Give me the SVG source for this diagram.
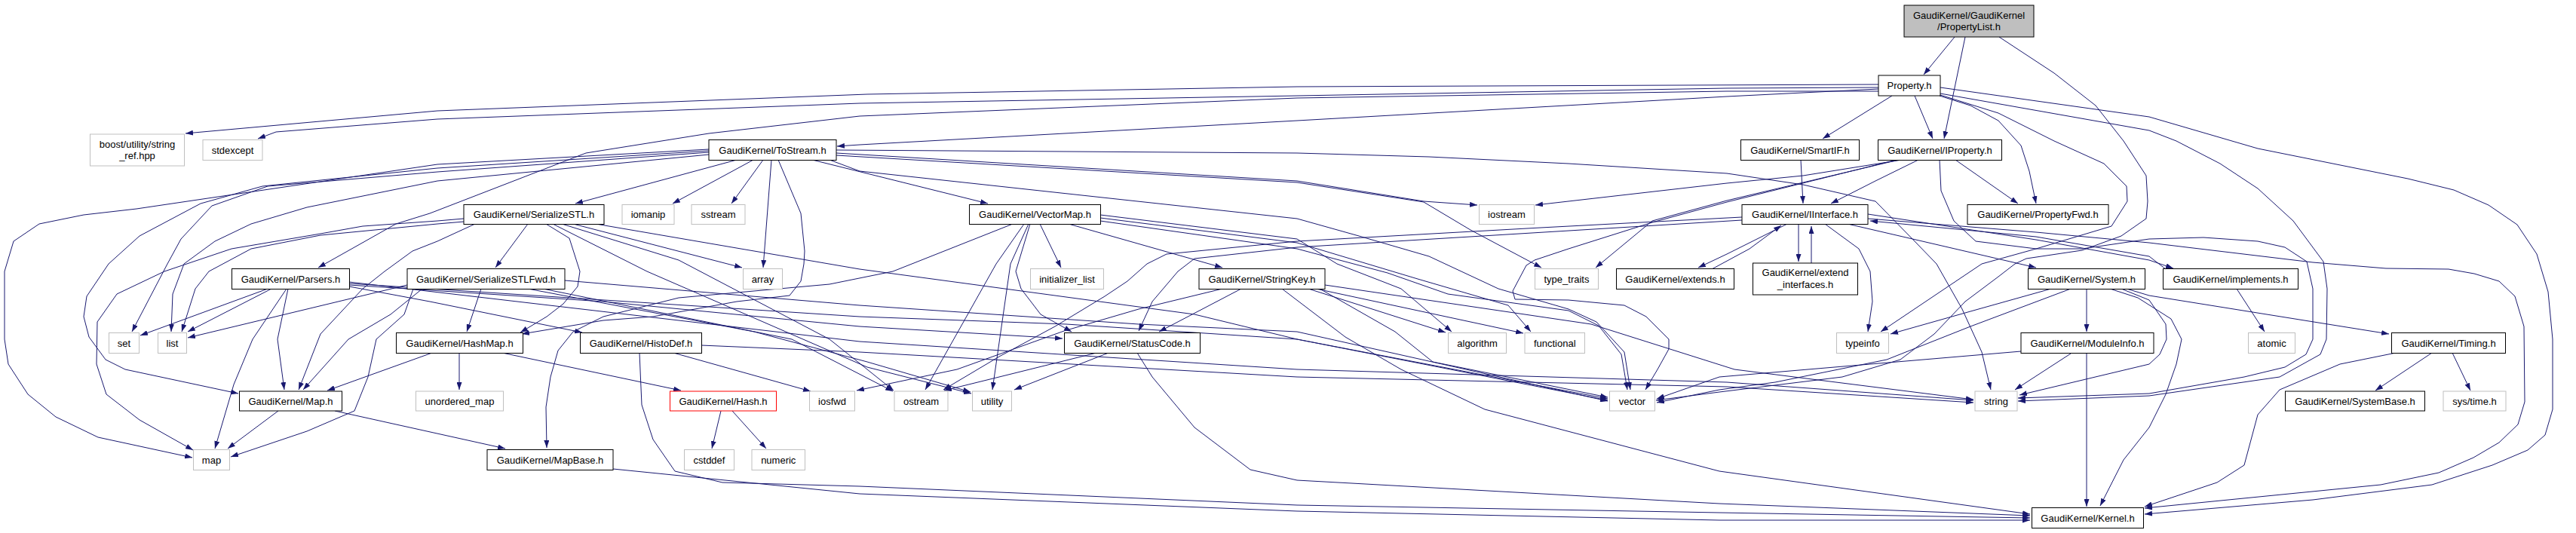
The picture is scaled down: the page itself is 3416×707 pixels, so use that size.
<svg xmlns="http://www.w3.org/2000/svg" width="3416" height="707" viewBox="0 0 3416 707">
<defs>
<marker id="ah" markerWidth="10" markerHeight="7" refX="10" refY="3.5" orient="auto" markerUnits="userSpaceOnUse"><path d="M0,0 L10,3.5 L0,7 z" fill="#191970"/></marker>
<style>
.e path{fill:none;stroke:#191970;stroke-width:1;stroke-linejoin:round;marker-end:url(#ah)}
.n rect{fill:#ffffff;stroke:#000000;stroke-width:1}
.x rect{fill:#ffffff;stroke:#bfbfbf;stroke-width:1}
.r rect{fill:#ffffff;stroke:#ff0000;stroke-width:1}
.root rect{fill:#bfbfbf;stroke:#000000;stroke-width:1}
text{font-family:"Liberation Sans",Arial,Helvetica,sans-serif;font-size:13px;fill:#000000;text-anchor:middle}
</style>
</defs>
<rect width="3416" height="707" fill="#ffffff"/>
<g id="edges" class="e">
<path d="M2592,49 L2551,99"/>
<path d="M2606,49 L2578,184"/>
<path d="M2651,49 L2724,97 L2779,140 L2816,187 L2846,233 L2848,267 L2846,290 L2813,313 L2761,332 L2687,343 L2672,350 L2650,367 L2606,400 L2565,443 L2520,477 L2443,500 L2280,520 L2196,531"/>
<path d="M2491,112 L1720,115 L1150,125 L580,147 L246,177"/>
<path d="M2491,116 L2290,117 L1720,127 L1140,137 L580,158 L366,175 L342,184"/>
<path d="M2491,118 L2290,128 L1720,160 L1140,192 L1110,194"/>
<path d="M2491,121 L2290,121 L1720,130 L1140,154 L940,177 L777,203 L570,283 L525,297 L422,355"/>
<path d="M2509,127 L2417,184"/>
<path d="M2539,127 L2563,184"/>
<path d="M2572,127 L2613,140 L2650,160 L2680,193 L2691,227 L2700,270"/>
<path d="M2573,116 L2850,155 L2994,197 L3193,237 L3254,252 L3300,272 L3338,298 L3364,337 L3379,387 L3385,450 L3385,543 L3375,577 L3352,597 L3305,617 L3225,643 L3067,663 L2844,682"/>
<path d="M2573,124 L2850,173 L2886,187 L2944,217 L2994,250 L3041,293 L3081,347 L3086,383 L3085,450 L3077,470 L3023,500 L2850,525 L2676,532"/>
<path d="M2573,126 L2650,150 L2724,187 L2790,217 L2820,247 L2821,267 L2800,300 L2700,330 L2628,350 L2494,440"/>
<path d="M2544,212 L2487,240 L2428,270"/>
<path d="M2593,212 L2676,270"/>
<path d="M2522,212 L2391,233 L2290,243 L2036,272"/>
<path d="M2518,212 L2290,266 L2191,293 L2116,355"/>
<path d="M2515,212 L2290,268 L2191,295 L2080,330 L2035,345 L2024,352 L2006,386 L2009,397 L2080,398 L2154,405 L2183,420 L2213,450 L2213,463 L2198,490 L2182,517"/>
<path d="M2572,212 L2574,253 L2591,293 L2620,320 L2700,330 L2761,330 L2850,317 L2922,315 L2994,320 L3030,328 L3059,347 L3067,383 L3067,450 L3058,470 L3030,487 L2976,500 L2850,522 L2676,528"/>
<path d="M977,212 L763,270"/>
<path d="M999,212 L892,270"/>
<path d="M1012,212 L970,270"/>
<path d="M1023,212 L1012,355"/>
<path d="M1077,212 L1310,270"/>
<path d="M1032,212 L1062,283 L1067,333 L1066,350 L1062,373 L1047,392 L977,400 L866,420 L800,425 L692,443"/>
<path d="M1109,199 L1720,203 L1895,208 L2080,217 L2290,230 L2391,245 L2487,267 L2539,320 L2568,350 L2602,410 L2628,467 L2640,517"/>
<path d="M1109,203 L1720,240 L1888,267 L1959,272"/>
<path d="M1109,206 L1720,242 L1888,268 L1950,305 L2044,355"/>
<path d="M1100,212 L1140,227 L1720,290 L1802,313 L1895,340 L1987,383 L2080,410 L2117,427 L2154,467 L2162,517"/>
<path d="M940,198 L580,218 L181,277 L111,285 L52,297 L18,320 L6,360 L6,450 L11,483 L37,523 L74,553 L130,580 L255,607"/>
<path d="M940,200 L580,223 L348,247 L266,270 L185,313 L144,350 L115,393 L111,420 L118,447 L140,477 L166,490 L316,522"/>
<path d="M940,202 L580,228 L355,247 L281,273 L240,317 L222,350 L175,440"/>
<path d="M940,205 L580,240 L407,275 L333,297 L285,320 L244,350 L229,390 L227,440"/>
<path d="M700,297 L657,355"/>
<path d="M724,297 L755,316 L769,360 L766,380 L747,403 L725,420 L690,441"/>
<path d="M630,297 L580,320 L547,333 L510,360 L481,383 L425,443 L396,517"/>
<path d="M615,290 L580,293 L481,300 L425,310 L307,330 L218,360 L155,390 L129,427 L128,483 L141,523 L185,557 L256,597"/>
<path d="M615,294 L580,297 L425,312 L333,330 L277,360 L259,383 L241,440"/>
<path d="M760,297 L984,355"/>
<path d="M733,297 L858,360 L1150,487 L1288,522"/>
<path d="M745,297 L900,345 L1100,450 L1185,518"/>
<path d="M790,297 L1140,357 L1362,387 L1584,417 L1720,450 L2132,529"/>
<path d="M638,383 L619,440"/>
<path d="M560,383 L518,417 L462,450 L402,517"/>
<path d="M548,383 L536,417 L499,450 L488,500 L470,545 L407,572 L306,606"/>
<path d="M540,378 L249,448"/>
<path d="M749,372 L1140,405 L1510,430 L1720,440 L2132,532"/>
<path d="M700,383 L1000,440 L1150,480 L1287,520"/>
<path d="M720,383 L1050,450 L1184,519"/>
<path d="M355,383 L186,445"/>
<path d="M360,383 L249,440"/>
<path d="M380,383 L335,450 L310,510 L285,595"/>
<path d="M382,383 L368,450 L377,517"/>
<path d="M463,380 L570,400 L772,441"/>
<path d="M463,378 L800,400 L1140,433 L1409,449"/>
<path d="M463,376 L1140,420 L1414,430 L1720,450 L2132,531"/>
<path d="M463,374 L1140,453 L1720,490 L2290,507 L2617,531"/>
<path d="M893,468 L1075,519"/>
<path d="M848,468 L851,537 L866,583 L895,625 L958,640 L1140,645 L1720,670 L2280,680 L2692,687"/>
<path d="M930,458 L1140,467 L1720,500 L2290,513 L2617,534"/>
<path d="M813,622 L1140,655 L1720,678 L2280,690 L2692,690"/>
<path d="M1379,297 L1407,355"/>
<path d="M1417,297 L1621,355"/>
<path d="M1366,297 L1347,360 L1354,383 L1380,417 L1421,440"/>
<path d="M1364,297 L1340,350 L1316,517"/>
<path d="M1358,297 L1321,350 L1227,517"/>
<path d="M1343,297 L1184,360 L1100,377 L900,395 L800,420 L760,440 L740,465 L730,500 L724,540 L725,594"/>
<path d="M1459,285 L1720,317 L1773,350 L1858,383 L1925,440"/>
<path d="M1459,289 L1720,322 L1880,370 L2000,405 L2030,440"/>
<path d="M1459,293 L1720,330 L1840,362 L1920,390 L2080,412 L2120,432 L2150,470 L2158,517"/>
<path d="M1646,383 L1537,440"/>
<path d="M1621,383 L1510,410 L1411,439 L1269,490 L1136,518"/>
<path d="M1735,383 L1917,441"/>
<path d="M1745,383 L2020,442"/>
<path d="M1750,383 L1850,440 L1900,480 L2132,527"/>
<path d="M1757,378 L2110,430 L2300,490 L2617,530"/>
<path d="M1700,383 L1784,447 L1858,490 L1969,543 L2280,625 L2692,682"/>
<path d="M1454,468 L1325,500 L1252,518"/>
<path d="M1470,468 L1345,517"/>
<path d="M1508,468 L1528,500 L1584,567 L1658,623 L1720,637 L2280,668 L2692,684"/>
<path d="M2388,212 L2391,270"/>
<path d="M2385,297 L2385,347"/>
<path d="M2402,349 L2402,300"/>
<path d="M2370,297 L2290,337 L2252,355"/>
<path d="M2270,357 L2320,330 L2362,299"/>
<path d="M2420,297 L2465,330 L2480,360 L2483,400 L2477,440"/>
<path d="M2450,297 L2700,355"/>
<path d="M2310,288 L2043,302 L1720,320 L1547,337 L1521,350 L1495,373 L1465,393 L1399,433 L1325,473 L1251,517"/>
<path d="M2310,292 L1720,328 L1584,343 L1562,360 L1528,400 L1510,439"/>
<path d="M2477,290 L2700,308 L2850,322 L3067,348 L3164,356 L3247,357 L3281,363 L3314,373 L3335,393 L3347,433 L3348,533 L3339,563 L3314,587 L3280,607 L3234,627 L3157,643 L2844,674"/>
<path d="M2477,284 L2700,318 L2850,345 L2882,356"/>
<path d="M2872,357 L2850,340 L2700,314 L2480,293"/>
<path d="M2720,383 L2613,413 L2507,443"/>
<path d="M2767,383 L2767,440"/>
<path d="M2813,383 L2850,398 L2872,430 L2873,450 L2864,470 L2850,483 L2678,524"/>
<path d="M2798,383 L2835,395 L2879,423 L2893,450 L2886,483 L2872,523 L2850,567 L2816,610 L2785,671"/>
<path d="M2820,383 L2850,392 L3168,443"/>
<path d="M2746,383 L2613,433 L2502,477 L2354,507 L2280,517 L2197,534"/>
<path d="M2746,469 L2672,517"/>
<path d="M2767,469 L2767,672"/>
<path d="M2680,466 L2280,500 L2197,529"/>
<path d="M3225,468 L3150,518"/>
<path d="M3252,468 L3276,518"/>
<path d="M3177,468 L3103,483 L3023,517 L2994,550 L2976,617 L2940,640 L2844,672"/>
<path d="M2966,383 L3003,440"/>
<path d="M609,468 L609,517"/>
<path d="M573,468 L434,518"/>
<path d="M666,468 L903,518"/>
<path d="M369,545 L302,595"/>
<path d="M444,545 L670,595"/>
<path d="M956,545 L944,595"/>
<path d="M971,545 L1016,595"/>
</g>
<g id="n_root" class="root"><rect x="2525" y="7" width="172" height="42"/><text x="2611" y="24.5">GaudiKernel/GaudiKernel</text><text x="2611" y="40">/PropertyList.h</text></g>
<g id="n_property" class="n"><rect x="2491" y="100" width="82" height="27"/><text x="2532" y="118">Property.h</text></g>
<g id="n_boost" class="x"><rect x="119.5" y="178" width="125" height="42"/><text x="182" y="195.5">boost/utility/string</text><text x="182" y="211">_ref.hpp</text></g>
<g id="n_stdexcept" class="x"><rect x="269" y="185.5" width="79" height="27"/><text x="308.5" y="203.5">stdexcept</text></g>
<g id="n_tostream" class="n"><rect x="940" y="185.5" width="169" height="27"/><text x="1024.5" y="203.5">GaudiKernel/ToStream.h</text></g>
<g id="n_smartif" class="n"><rect x="2308.5" y="185.5" width="157" height="27"/><text x="2387" y="203.5">GaudiKernel/SmartIF.h</text></g>
<g id="n_iproperty" class="n"><rect x="2490.5" y="185.5" width="164" height="27"/><text x="2572.5" y="203.5">GaudiKernel/IProperty.h</text></g>
<g id="n_serializestl" class="n"><rect x="615" y="271.5" width="186" height="26"/><text x="708" y="289">GaudiKernel/SerializeSTL.h</text></g>
<g id="n_iomanip" class="x"><rect x="825" y="271.5" width="69" height="26"/><text x="859.5" y="289">iomanip</text></g>
<g id="n_sstream" class="x"><rect x="917" y="271.5" width="71" height="26"/><text x="952.5" y="289">sstream</text></g>
<g id="n_vectormap" class="n"><rect x="1285.5" y="271.5" width="174" height="26"/><text x="1372.5" y="289">GaudiKernel/VectorMap.h</text></g>
<g id="n_iostream" class="x"><rect x="1961.5" y="271.5" width="73" height="26"/><text x="1998" y="289">iostream</text></g>
<g id="n_iinterface" class="n"><rect x="2310" y="271.5" width="167" height="26"/><text x="2393.5" y="289">GaudiKernel/IInterface.h</text></g>
<g id="n_propertyfwd" class="n"><rect x="2609" y="271.5" width="187" height="26"/><text x="2702.5" y="289">GaudiKernel/PropertyFwd.h</text></g>
<g id="n_parsers" class="n"><rect x="307.5" y="356.5" width="156" height="27"/><text x="385.5" y="374.5">GaudiKernel/Parsers.h</text></g>
<g id="n_serializestlfwd" class="n"><rect x="540" y="356.5" width="209" height="27"/><text x="644.5" y="374.5">GaudiKernel/SerializeSTLFwd.h</text></g>
<g id="n_array" class="x"><rect x="985.5" y="356.5" width="52" height="27"/><text x="1011.5" y="374.5">array</text></g>
<g id="n_initializer_list" class="x"><rect x="1366.5" y="356.5" width="97" height="27"/><text x="1415" y="374.5">initializer_list</text></g>
<g id="n_stringkey" class="n"><rect x="1590" y="356.5" width="167" height="27"/><text x="1673.5" y="374.5">GaudiKernel/StringKey.h</text></g>
<g id="n_type_traits" class="x"><rect x="2035.5" y="356.5" width="84" height="27"/><text x="2077.5" y="374.5">type_traits</text></g>
<g id="n_extends" class="n"><rect x="2143.5" y="356.5" width="156" height="27"/><text x="2221.5" y="374.5">GaudiKernel/extends.h</text></g>
<g id="n_extend_interfaces" class="n"><rect x="2324.5" y="349" width="139" height="42"/><text x="2394" y="366">GaudiKernel/extend</text><text x="2394" y="381.5">_interfaces.h</text></g>
<g id="n_system" class="n"><rect x="2689.5" y="356.5" width="155" height="27"/><text x="2767" y="374.5">GaudiKernel/System.h</text></g>
<g id="n_implements" class="n"><rect x="2868.5" y="356.5" width="179" height="27"/><text x="2958" y="374.5">GaudiKernel/implements.h</text></g>
<g id="n_set" class="x"><rect x="144.5" y="441.5" width="40" height="27"/><text x="164.5" y="459.5">set</text></g>
<g id="n_list" class="x"><rect x="209.5" y="441.5" width="38" height="27"/><text x="228.5" y="459.5">list</text></g>
<g id="n_hashmap" class="n"><rect x="525.5" y="441.5" width="168" height="27"/><text x="609.5" y="459.5">GaudiKernel/HashMap.h</text></g>
<g id="n_histodef" class="n"><rect x="769.5" y="441.5" width="161" height="27"/><text x="850" y="459.5">GaudiKernel/HistoDef.h</text></g>
<g id="n_statuscode" class="n"><rect x="1411.5" y="441.5" width="180" height="27"/><text x="1501.5" y="459.5">GaudiKernel/StatusCode.h</text></g>
<g id="n_algorithm" class="x"><rect x="1920.5" y="441.5" width="77" height="27"/><text x="1959" y="459.5">algorithm</text></g>
<g id="n_functional" class="x"><rect x="2022" y="441.5" width="79.5" height="27"/><text x="2061.75" y="459.5">functional</text></g>
<g id="n_typeinfo" class="x"><rect x="2435.5" y="441.5" width="69" height="27"/><text x="2470" y="459.5">typeinfo</text></g>
<g id="n_moduleinfo" class="n"><rect x="2680" y="441.5" width="176" height="27"/><text x="2768" y="459.5">GaudiKernel/ModuleInfo.h</text></g>
<g id="n_atomic" class="x"><rect x="2981.5" y="441.5" width="62" height="27"/><text x="3012.5" y="459.5">atomic</text></g>
<g id="n_timing" class="n"><rect x="3171.5" y="441.5" width="151" height="27"/><text x="3247" y="459.5">GaudiKernel/Timing.h</text></g>
<g id="n_map_h" class="n"><rect x="317.5" y="519" width="136" height="26"/><text x="385.5" y="536.5">GaudiKernel/Map.h</text></g>
<g id="n_unordered_map" class="x"><rect x="551.5" y="519" width="116" height="26"/><text x="609.5" y="536.5">unordered_map</text></g>
<g id="n_hash" class="r"><rect x="888.5" y="519" width="141" height="26"/><text x="959" y="536.5">GaudiKernel/Hash.h</text></g>
<g id="n_iosfwd" class="x"><rect x="1073.5" y="519" width="60" height="26"/><text x="1103.5" y="536.5">iosfwd</text></g>
<g id="n_ostream" class="x"><rect x="1186" y="519" width="71" height="26"/><text x="1221.5" y="536.5">ostream</text></g>
<g id="n_utility" class="x"><rect x="1289.5" y="519" width="52" height="26"/><text x="1315.5" y="536.5">utility</text></g>
<g id="n_vector" class="x"><rect x="2134.5" y="519" width="60" height="26"/><text x="2164.5" y="536.5">vector</text></g>
<g id="n_string" class="x"><rect x="2619" y="519" width="56" height="26"/><text x="2647" y="536.5">string</text></g>
<g id="n_systembase" class="n"><rect x="3030.5" y="519" width="185" height="26"/><text x="3123" y="536.5">GaudiKernel/SystemBase.h</text></g>
<g id="n_systime" class="x"><rect x="3240" y="519" width="83" height="26"/><text x="3281.5" y="536.5">sys/time.h</text></g>
<g id="n_map" class="x"><rect x="256.5" y="596.5" width="48" height="27"/><text x="280.5" y="614.5">map</text></g>
<g id="n_mapbase" class="n"><rect x="646" y="596.5" width="167" height="27"/><text x="729.5" y="614.5">GaudiKernel/MapBase.h</text></g>
<g id="n_cstddef" class="x"><rect x="907.5" y="596.5" width="66" height="27"/><text x="940.5" y="614.5">cstddef</text></g>
<g id="n_numeric" class="x"><rect x="997" y="596.5" width="70.5" height="27"/><text x="1032.25" y="614.5">numeric</text></g>
<g id="n_kernel" class="n"><rect x="2694.5" y="673.5" width="148" height="27"/><text x="2768.5" y="691.5">GaudiKernel/Kernel.h</text></g>
</svg>
